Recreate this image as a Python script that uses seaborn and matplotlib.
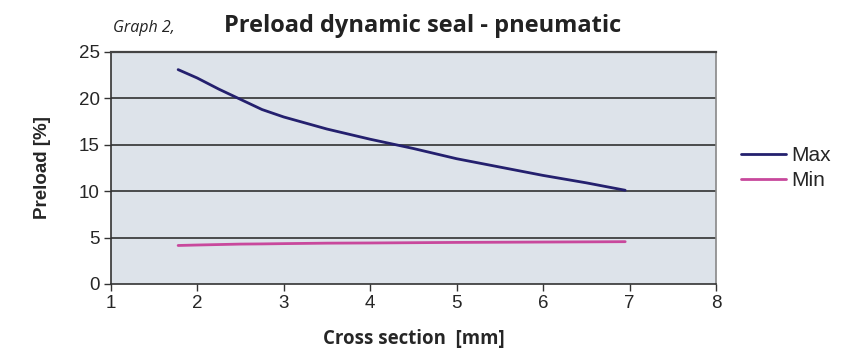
import pandas as pd
import matplotlib.pyplot as plt
import seaborn as sns

# values
cross_section = [1.78, 2.0, 2.25, 2.5, 2.75, 3.0, 3.5, 4.0, 4.5, 5.0, 5.5, 6.0, 6.5, 6.95]
preload_max = [23.1, 22.2, 21.0, 19.9, 18.8, 18.0, 16.7, 15.6, 14.6, 13.5, 12.6, 11.7, 10.9, 10.1]
preload_min = [4.15, 4.2, 4.25, 4.3, 4.32, 4.35, 4.4, 4.42, 4.45, 4.48, 4.5, 4.52, 4.54, 4.56]

series_names = ["Max", "Min"]
series_colors = {"Max": "#24206e", "Min": "#c8489c"}

df = pd.DataFrame({
    "x": cross_section * 2,
    "y": preload_max + preload_min,
    "series": [series_names[0]] * len(cross_section) + [series_names[1]] * len(cross_section),
})

sns.set_style("white")
plt.rcParams["font.family"] = ["Liberation Sans", "DejaVu Sans"]

fig = plt.figure(figsize=(8.64, 3.51), dpi=100)
ax = fig.add_axes([0.1281, 0.1909, 0.8287 - 0.1281, 0.8519 - 0.1909])
ax.set_facecolor("#dde3ea")

sns.lineplot(data=df, x="x", y="y", hue="series", palette=series_colors,
             linewidth=2, ax=ax, legend=True)

ax.set_xlim(1, 8)
ax.set_ylim(0, 25)
ax.set_xticks(range(1, 9))
ax.set_yticks(range(0, 26, 5))
for yv in range(5, 25, 5):
    ax.axhline(yv, color="#222222", linewidth=1.1, zorder=1)

ax.tick_params(axis="both", direction="out", length=5, width=1, color="#333333",
               labelsize=13.5, pad=3, bottom=True, left=True)
for side in ["left", "bottom"]:
    ax.spines[side].set_color("#333333")
    ax.spines[side].set_linewidth(1.2)
ax.spines["top"].set_color("#444444")
ax.spines["top"].set_linewidth(1.6)
ax.spines["right"].set_color("#888888")
ax.spines["right"].set_linewidth(1.2)

ax.set_xlabel("Cross section  [mm]", fontsize=13.4, fontweight="bold", family="Open Sans", labelpad=12)
ax.set_ylabel("Preload [%]", fontsize=13.5, fontweight="bold", labelpad=20)

fig.text(0.131, 0.92, "Graph 2,", fontsize=11.5, style="italic", family="Open Sans",
         color="#222222", va="center")
fig.text(0.489, 0.925, "Preload dynamic seal - pneumatic", fontsize=17, fontweight="bold",
         family="Open Sans", color="#222222", ha="center", va="center")

leg = ax.legend(loc="center left", bbox_to_anchor=(1.02, 0.50), frameon=False,
                fontsize=15, handlelength=2.2, handletextpad=0.25, labelspacing=0.3,
                borderaxespad=0.2)
for line in leg.get_lines():
    line.set_linewidth(2)

fig.savefig("out.png", dpi=100)
